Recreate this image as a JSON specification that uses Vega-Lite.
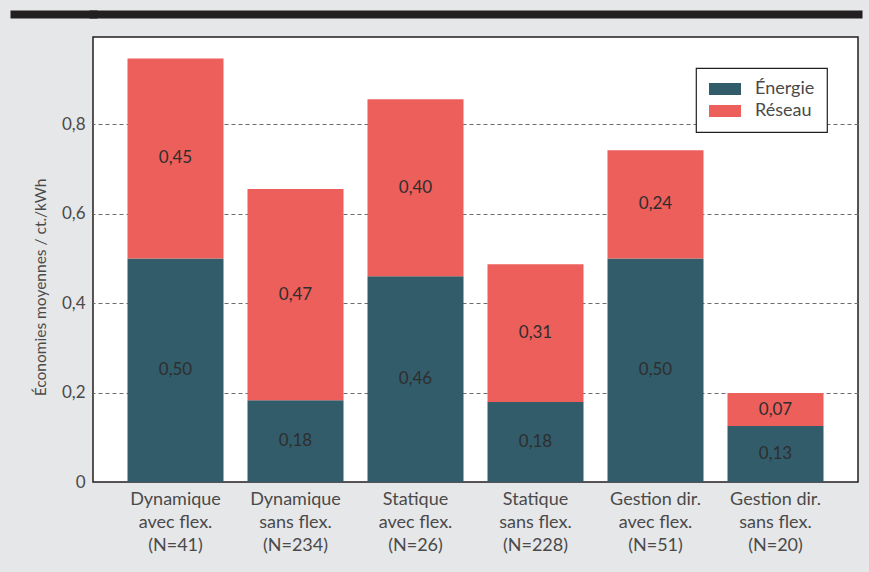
{
  "$schema": "https://vega.github.io/schema/vega-lite/v6.json",
  "autosize": "none",
  "width": 765,
  "height": 445,
  "padding": {"left": 93, "top": 37, "right": 11, "bottom": 90},
  "background": "#e6e7e8",
  "config": {
    "locale": {"number": {"decimal": ",", "thousands": " ", "grouping": [3], "currency": ["", " €"]}},
    "view": {"fill": "white", "stroke": "#231f20", "strokeWidth": 1.5},
    "font": "Lato"
  },
  "data": {
    "values": [
      {"categorie": "Dynamique|avec flex.|(N=41)", "composante": "Énergie", "ordre": 1, "valeur": 0.50},
      {"categorie": "Dynamique|avec flex.|(N=41)", "composante": "Réseau", "ordre": 2, "valeur": 0.447},
      {"categorie": "Dynamique|sans flex.|(N=234)", "composante": "Énergie", "ordre": 1, "valeur": 0.183},
      {"categorie": "Dynamique|sans flex.|(N=234)", "composante": "Réseau", "ordre": 2, "valeur": 0.472},
      {"categorie": "Statique|avec flex.|(N=26)", "composante": "Énergie", "ordre": 1, "valeur": 0.46},
      {"categorie": "Statique|avec flex.|(N=26)", "composante": "Réseau", "ordre": 2, "valeur": 0.396},
      {"categorie": "Statique|sans flex.|(N=228)", "composante": "Énergie", "ordre": 1, "valeur": 0.179},
      {"categorie": "Statique|sans flex.|(N=228)", "composante": "Réseau", "ordre": 2, "valeur": 0.308},
      {"categorie": "Gestion dir.|avec flex.|(N=51)", "composante": "Énergie", "ordre": 1, "valeur": 0.50},
      {"categorie": "Gestion dir.|avec flex.|(N=51)", "composante": "Réseau", "ordre": 2, "valeur": 0.242},
      {"categorie": "Gestion dir.|sans flex.|(N=20)", "composante": "Énergie", "ordre": 1, "valeur": 0.125},
      {"categorie": "Gestion dir.|sans flex.|(N=20)", "composante": "Réseau", "ordre": 2, "valeur": 0.074}
    ]
  },
  "transform": [
    {"stack": "valeur", "groupby": ["categorie"], "sort": [{"field": "ordre", "order": "ascending"}], "as": ["v0", "v1"]},
    {"calculate": "(datum.v0 + datum.v1) / 2", "as": "milieu"}
  ],
  "encoding": {
    "x": {
      "field": "categorie",
      "type": "nominal",
      "sort": null,
      "scale": {"paddingInner": 0.2, "paddingOuter": 0.2875},
      "axis": {
        "title": null,
        "labelAngle": 0,
        "labelExpr": "split(datum.label, '|')",
        "labelFontSize": 18,
        "labelColor": "#4a4a4a",
        "labelLineHeight": 23,
        "labelPadding": 8,
        "labelBaseline": "top",
        "ticks": false,
        "domain": false,
        "grid": false
      }
    }
  },
  "layer": [
    {
      "mark": {"type": "bar"},
      "encoding": {
        "y": {
          "field": "v0",
          "type": "quantitative",
          "scale": {"domain": [0, 0.995], "nice": false},
          "axis": {
            "title": "Économies moyennes / ct./kWh",
            "titleFontSize": 15.5,
            "titleFontWeight": "normal",
            "titleColor": "#4a4a4a",
            "titleX": -53,
            "titleY": 250,
            "titleAngle": -90,
            "titleAlign": "center",
            "titleBaseline": "middle",
            "values": [0, 0.2, 0.4, 0.6, 0.8, 0.995],
            "labelExpr": "datum.value > 0.9 ? '' : datum.value == 0 ? '0' : replace(format(datum.value, '.1f'), '.', ',')",
            "labelFontSize": 17,
            "labelColor": "#4a4a4a",
            "labelPadding": 8,
            "tickOffset": -23,
            "labelOffset": 23,
            "ticks": true,
            "tickSize": {"condition": {"test": "datum.value > 0.9", "value": 79}, "value": 0},
            "tickWidth": {"condition": {"test": "datum.value > 0.9", "value": 8}, "value": 0},
            "tickColor": {"condition": {"test": "datum.value > 0.9", "value": "#231f20"}, "value": "transparent"},
            "tickCap": "square",
            "domain": false,
            "grid": true,
            "gridCap": "square",
            "gridColor": {"condition": {"test": "datum.value > 0.9", "value": "#231f20"}, "value": "transparent"},
            "gridWidth": {"condition": {"test": "datum.value > 0.9", "value": 8}, "value": 0}
          }
        },
        "y2": {"field": "v1"},
        "color": {
          "field": "composante",
          "type": "nominal",
          "scale": {"domain": ["Énergie", "Réseau"], "range": ["#325c6a", "#ec5f5b"]},
          "legend": {
            "title": null,
            "orient": "top-right",
            "offset": 31,
            "fillColor": "white",
            "strokeColor": "#231f20",
            "padding": 12,
            "labelFontSize": 18,
            "labelColor": "#4a4a4a",
            "symbolType": "M-2,-0.75H2V0.75H-2Z",
            "symbolSize": 256,
            "symbolStrokeWidth": 0,
            "symbolOffset": 8,
            "labelOffset": 21,
            "rowPadding": 4,
            "encode": {"legend": {"update": {"strokeWidth": {"value": 1.2}}}}
          }
        }
      }
    },
    {
      "mark": {"type": "text", "fontSize": 17, "color": "#2e2e2e", "baseline": "middle", "align": "center"},
      "encoding": {
        "y": {
          "field": "milieu",
          "type": "quantitative",
          "axis": {
            "orient": "right",
            "title": null,
            "values": [0.2, 0.4, 0.6, 0.8],
            "labels": false,
            "domain": false,
            "ticks": false,
            "grid": true,
            "gridColor": "#6d6d6d",
            "gridDash": [4, 3],
            "gridWidth": 1
          }
        },
        "text": {"field": "valeur", "type": "quantitative", "format": ".2f"}
      }
    }
  ],
  "resolve": {"axis": {"y": "independent"}}
}
